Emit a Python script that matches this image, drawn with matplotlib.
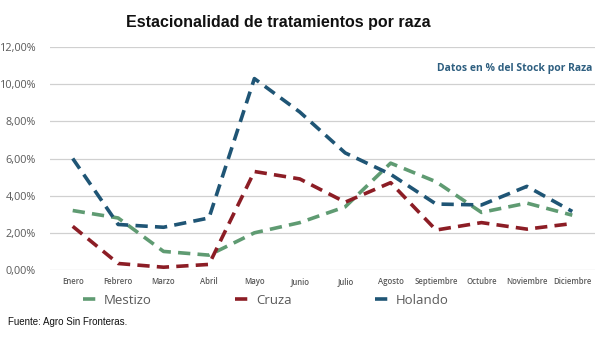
import matplotlib
matplotlib.use("Agg")
import matplotlib.pyplot as plt
from matplotlib.ticker import FuncFormatter

months = ["Enero", "Febrero", "Marzo", "Abril", "Mayo", "Junio", "Julio",
          "Agosto", "Septiembre", "Octubre", "Noviembre", "Diciembre"]
mestizo = [3.2, 2.8, 1.0, 0.8, 2.0, 2.55, 3.4, 5.75, 4.75, 3.1, 3.6, 2.95]
cruza = [2.35, 0.35, 0.15, 0.3, 5.3, 4.9, 3.65, 4.7, 2.15, 2.55, 2.2, 2.5]
holando = [6.0, 2.45, 2.3, 2.8, 10.3, 8.5, 6.3, 5.15, 3.55, 3.5, 4.5, 3.15]

series = [("Mestizo", mestizo, "#5f9b72"),
          ("Cruza", cruza, "#8c1d25"),
          ("Holando", holando, "#1f5575")]

fig = plt.figure(figsize=(6.0, 3.58), dpi=100)
ax = fig.add_axes([50/600, 1 - 270/358, 545/600, 223/358])

x = list(range(len(months)))
for name, vals, col in series:
    ax.plot(x, vals, color=col, lw=2.6, ls=(0, (3.4, 2.0)), label=name,
            solid_capstyle="butt", dash_capstyle="butt")

ax.set_xlim(-0.5, 11.5)
ax.set_ylim(0, 12)
ax.set_yticks([0, 2, 4, 6, 8, 10, 12])
ax.yaxis.set_major_formatter(FuncFormatter(lambda v, p: f"{v:.2f}%".replace(".", ",")))
ax.set_xticks(x)
ax.set_xticklabels(months)
ax.tick_params(axis="y", length=0, labelsize=7.8, labelcolor="#595959", pad=10)
ax.tick_params(axis="x", length=0, labelsize=5.6, labelcolor="#595959", pad=5)
for lab in ax.get_xticklabels():
    lab.set_fontfamily("Open Sans")
    lab.set_fontweight("semibold")
for lab in ax.get_yticklabels():
    lab.set_fontfamily("Open Sans")
ax.grid(axis="y", color="#d0d0d0", lw=0.9)
ax.set_axisbelow(True)
for s in ax.spines.values():
    s.set_visible(False)

fig.text(278/600, 1 - 22/358, "Estacionalidad de tratamientos por raza",
         ha="center", va="center", fontsize=11.5, fontweight="bold",
         family="Liberation Sans", color="#111111")
fig.text(592/600, 1 - 68/358, "Datos en % del Stock por Raza", ha="right",
         va="center", fontsize=7.5, fontweight="bold", family="Open Sans",
         color="#2e5f80")

leg = fig.legend(loc="center", bbox_to_anchor=(266/600, 1 - 300/358), ncol=3,
                 frameon=False, prop={"family": "Open Sans", "size": 9.5},
                 handlelength=1.4, columnspacing=6.3, handletextpad=0.2)
for t in leg.get_texts():
    t.set_color("#595959")

fig.text(8/600, 1 - 322/358, "Fuente: Agro Sin Fronteras.", ha="left", va="center",
         fontsize=7, family="Liberation Sans", color="#111111")

fig.savefig("out.png", dpi=100)
